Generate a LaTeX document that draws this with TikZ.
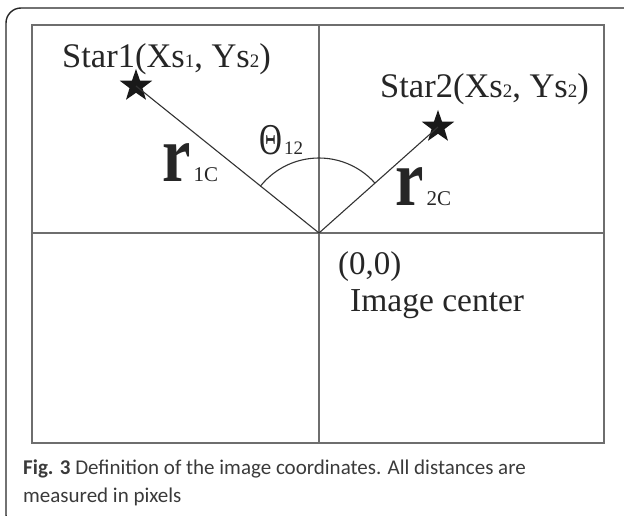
\documentclass[tikz,border=0pt]{standalone}
\usepackage{fontspec}
\setmainfont{Liberation Serif}
\newfontfamily\capfont{Carlito}
\usetikzlibrary{shapes.geometric}
\definecolor{gridgray}{HTML}{6E6E6E}
\definecolor{capgray}{HTML}{3A3A3A}
\newcommand{\smallsub}[1]{{\fontsize{19}{19}\selectfont #1}}
\newcommand{\rsub}[1]{{\fontsize{21}{21}\selectfont #1}}
\newcommand{\bigrglyph}{\scalebox{0.8}[1]{\fontsize{80}{80}\selectfont\bfseries r}}
\begin{document}
\begin{tikzpicture}[x=1pt,y=-1pt,
  gridline/.style={draw=gridgray,line width=1.4pt},
  ray/.style={draw=black!80,line width=1.1pt},
  starmark/.style={star,star points=5,star point ratio=2.5,fill=black!90,draw=none,minimum size=34pt,inner sep=0pt},
  lbl/.style={inner sep=0pt,anchor=base west,text=black!85},
  captext/.style={inner sep=0pt,anchor=base west,text=capgray,font=\capfont\fontsize{21}{21}\selectfont}]
\useasboundingbox (0,0) rectangle (624,516);
\begin{scope}
\clip (0,0) rectangle (624,516);
\draw[line width=1.4pt,black!85,rounded corners=15pt] (6,8) rectangle (640,530);
\end{scope}
% grid
\coordinate (TL) at (32,25);
\coordinate (BR) at (604,443);
\coordinate (O) at (319,233);
\coordinate (Ot) at (319,25);
\coordinate (Ob) at (319,443);
\coordinate (Ol) at (32,233);
\coordinate (Or) at (604,233);
\draw[gridline] (TL) rectangle (BR);
\draw[gridline] (Ot) -- (Ob);
\draw[gridline] (Ol) -- (Or);
% stars
\node[starmark] (s1) at (136,86) {};
\node[starmark] (s2) at (438,127) {};
\draw[ray] (O) -- (s1.center);
\draw[ray] (O) -- (s2.center);
\draw[ray] (O) ++(-41.5:75) arc[start angle=-41.5,end angle=-141.5,radius=75];
% labels
\node[lbl,font=\fontsize{34.5}{34.5}\selectfont] (l1) at (62,68) {Star1(Xs\smallsub{1}, Ys\smallsub{2})};
\node[lbl,font=\fontsize{34.5}{34.5}\selectfont] (l2) at (380,98) {Star2(Xs\smallsub{2}, Ys\smallsub{2})};
\node[lbl] (th) at (259,155) {\scalebox{0.72}[1]{\fontsize{44}{44}\selectfont Θ}\hspace{2pt}\smallsub{12}};
\node[lbl] (r1) at (162,182) {\bigrglyph\hspace{3pt}\rsub{1C}};
\node[lbl] (r2) at (395,205) {\bigrglyph\hspace{3pt}\rsub{2C}};
\node[lbl,font=\fontsize{33}{33}\selectfont] (org) at (338,274) {(0,0)};
\node[lbl,font=\fontsize{33.5}{33.5}\selectfont] (ic) at (350,311) {Image center};
% caption
\node[captext] (c1) at (23,474) {\textbf{Fig. 3} Definition of the image coordinates. All distances are};
\node[captext] (c2) at (23,502) {measured in pixels};
\end{tikzpicture}
\end{document}
